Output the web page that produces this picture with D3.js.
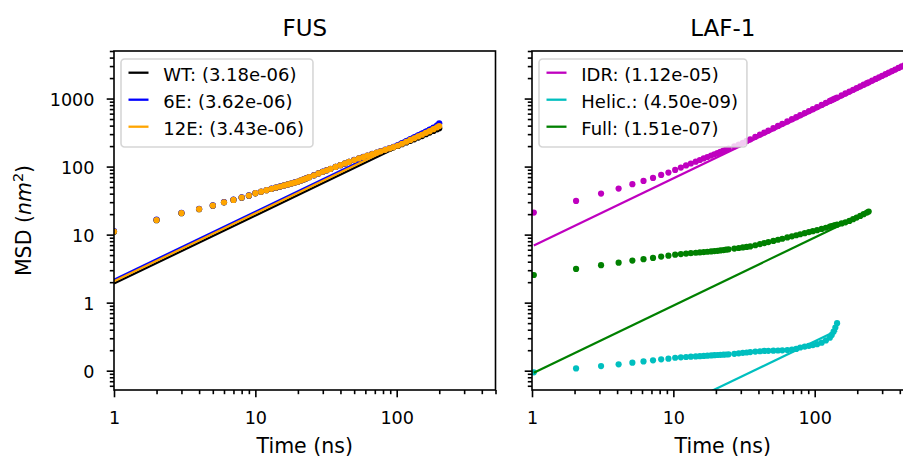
<!DOCTYPE html>
<html>
<head>
<meta charset="utf-8">
<script src="https://cdn.jsdelivr.net/npm/d3@7"></script>
<style>
  body { margin: 0; background: #fff; }
  text { font-family: "DejaVu Sans", sans-serif; fill: #000; }
</style>
</head>
<body>
<div id="chart"></div>
<script>
// ---- data ----
const tFUS = [1,2,3,4,5,6,7,8,9,10,11,12,13,14,15,16,17,18,19,20,21,22,23,24,
  26,28,30,32,34,37,40,43,46,50,54,58,62,67,72,77,83,89,95,102,109,117,125,133,142,
  151,161,171,182,193,200]

const msdWT = [11.0,16.3,20.6,23.6,26.6,29.8,32.3,34.9,37.4,40.5,
  42.7,44.9,47.0,49.0,50.9,52.8,54.6,56.4,58.2,59.9,62.4,64.8,67.3,69.7,
  74.5,79.2,83.9,88.2,92.2,98.8,105.0,110.9,116.9,124.6,131.2,137.6,143.8,151.4,158.6,
  165.5,173.8,181.9,192,201,213,226,239,252,267,281,299,316,334,353,367]
const msd6E = [11.3,16.6,20.9,23.9,26.9,30.1,32.6,35.2,37.7,40.8,
  43.0,45.2,47.3,49.3,51.2,53.1,54.9,56.7,58.5,60.2,62.7,65.1,67.6,70.0,
  74.8,79.5,84.2,88.5,92.5,99.1,105.3,111.3,117.4,125.4,132.2,138.8,145.4,153.4,161.2,
  169.0,178.0,187.2,195,207,221,237,254,270,288,306,328,350,375,405,432]
const msd12E = [11.1,16.4,20.7,23.7,26.7,29.9,32.4,35.0,37.5,40.6,
  42.8,45.0,47.1,49.1,51.0,52.9,54.7,56.5,58.3,60.0,62.5,64.9,67.4,69.8,
  74.6,79.3,84.0,88.3,92.3,98.9,105.1,111.1,117.1,125.0,131.7,138.2,144.6,152.4,160.0,
  167.5,176.2,184.9,193.2,203.7,216.7,231.6,246.3,261.0,277.4,293.9,313.0,332.0,355.0,378.0,395.0]

const tLAF = [1.03,2.05,3.08,4.1,5.13,6.15,7.18,8.2,9.23,10.3,11.3,12.3,13.3,14.4,15.4,16.4,17.4,
  18.5,19.5,20.5,21.5,22.6,23.6,24.6,27,29,31,33,35,38,41,44,47,51,55,59,64,69,74,
  79,85,91,97,104,112,120,128,132,136,140,144,155,165,176,187,198,210,222,234,241,
  255,270,285,300,317,334,352,371,391,412,434,457,480]

const msdIDR = [21.1,31.3,40.1,47.5,55.1,61.6,68.2,75.5,81.7,89.4,
  96.7,103.9,111.0,118.0,124.9,131.7,138.4,145.1,151.7,158.2,164.8,171.2,177.6,183.9,
  198.6,210.6,223,238,252,274,295,317,338,367,396,425,461,497,533,
  569,612,655,698,749,806,864,922,950,979,1008,1037,1116,1188,1267,1346,1426,
  1512,1598,1685,1735,1836,1944,2052,2160,2282,2405,2534,2671,2815,2966,3125,3290,3456]
const msdHelic = [0.0946,0.108,0.117,0.124,0.131,0.137,0.142,0.147,0.150,0.155,
  0.157,0.1588,0.1605,0.1621,0.1636,0.165,0.1663,0.1676,0.1688,0.170,0.171,0.172,0.173,0.174,
  0.177,0.180,0.183,0.185,0.188,0.191,0.193,0.195,0.196,0.197,0.198,0.199,0.201,0.204,0.209,
  0.219,0.226,0.232,0.238,0.245,0.258,0.278,0.305,0.335,0.375,0.43,0.50]
const msdFull = [2.55,3.13,3.55,3.87,4.15,4.35,4.54,4.75,4.91,5.08,
  5.17,5.25,5.33,5.41,5.47,5.54,5.60,5.66,5.72,5.77,5.85,5.93,6.00,6.07,
  6.23,6.36,6.48,6.59,6.70,6.98,7.25,7.51,7.76,8.09,8.40,8.70,9.09,9.44,9.78,
  10.12,10.50,10.88,11.24,11.64,12.14,12.62,13.10,13.33,13.56,13.79,14.01,
  14.61,15.14,15.91,16.85,17.78,18.8,19.96,21.12,21.8]

const fusNames = ['WT', '6E', '12E']
const fusD = [3.18e-06, 3.62e-06, 3.43e-06]
const fusColors = ['#000000', '#0000ff', '#ffa500']

const lafNames = ['IDR', 'Helic.', 'Full']
const lafD = [1.12e-05, 4.50e-09, 1.51e-07]
const lafColors = ['#bf00bf', '#00bfbf', '#008000']

const xTicks = [1, 10, 100]
const yTicks = [0.1, 1, 10, 100, 1000]

// ---- layout ----
const W = 903, H = 458
const topY = 51, bottomY = 390, pw = 381.5
const ph = bottomY - topY
const fontTick = 17.6, fontLabel = 20.5, fontTitle = 23, fontLegend = 18

const svg = d3.select('#chart').append('svg').attr('width', W).attr('height', H)

const x = d3.scaleLog().domain([1, 500]).range([0, pw])
const y = d3.scaleLog().domain([0.052, 5000]).range([ph, 0])

function minorTicks(domain) {
  let out = []
  for (let e = -3; e <= 4; e++) {
    for (let m = 2; m <= 9; m++) {
      let v = m * Math.pow(10, e)
      if (v >= domain[0] && v <= domain[1]) out.push(v)
    }
  }
  return out
}

// fitted MSD = 6 D t, D in cm^2/s -> nm^2/ns
function fitVal(D, t) { return 6 * D * 1e5 * t }

function fmtD(D) {
  let s = D.toExponential(2)           // 3.18e-6
  return s.replace(/e([+-])(\d)$/, 'e$10$2')
}

function drawPanel(left, title, series, showYLabels, id) {
  const g = svg.append('g').attr('transform', `translate(${left},${topY})`)

  g.append('clipPath').attr('id', 'clip' + id)
    .append('rect').attr('width', pw).attr('height', ph)

  const plot = g.append('g').attr('clip-path', `url(#clip${id})`)

  series.forEach(function(s) {
    plot.append('g').selectAll('circle')
      .data(s.values.map((v, i) => [s.t[i], v]))
      .enter().append('circle')
      .attr('cx', d => x(d[0]))
      .attr('cy', d => y(d[1]))
      .attr('r', 3.1)
      .attr('fill', s.color)

    let t0 = s.t[0], t1 = s.t[s.values.length - 1]
    plot.append('path')
      .datum([t0, t1])
      .attr('d', d3.line().x(t => x(t)).y(t => y(fitVal(s.D, t))))
      .attr('fill', 'none')
      .attr('stroke', s.color)
      .attr('stroke-width', 2.2)
  })

  // axes
  const gx = g.append('g').attr('transform', `translate(0,${ph})`)
  gx.append('g').call(d3.axisBottom(x).tickValues(minorTicks(x.domain())).tickSize(4.2).tickFormat(''))
  gx.append('g').call(d3.axisBottom(x).tickValues(xTicks).tickSize(7.3).tickFormat(d3.format('d')))
  gx.selectAll('text').attr('y', 33.5).attr('dy', null).style('font-size', fontTick + 'px')
    .attr('font-family', null)

  const gy = g.append('g')
  gy.append('g').call(d3.axisLeft(y).tickValues(minorTicks(y.domain())).tickSize(4.2).tickFormat(''))
  gy.append('g').call(d3.axisLeft(y).tickValues(yTicks).tickSize(7.3)
    .tickFormat(d => showYLabels ? String(Math.round(d)) : ''))
  gy.selectAll('text').attr('x', -19.5).attr('y', 7).attr('dy', null).style('font-size', fontTick + 'px')
    .attr('font-family', null)

  g.selectAll('.domain').remove()
  g.selectAll('.tick line').attr('stroke', '#000').attr('stroke-width', 1.6)

  // spines
  g.append('rect').attr('width', pw).attr('height', ph)
    .attr('fill', 'none').attr('stroke', '#000').attr('stroke-width', 1.6)

  // legend
  const lg = g.append('g').attr('transform', 'translate(7,8)')
  const box = lg.append('rect').attr('height', 88).attr('rx', 3.5)
    .attr('fill', '#fff').attr('fill-opacity', 0.8)
    .attr('stroke', '#cccccc').attr('stroke-opacity', 0.8).attr('stroke-width', 1.6)
  let maxW = 0
  series.forEach(function(s, i) {
    let cy = 13.7 + i * 27
    lg.append('line').attr('x1', 7.5).attr('x2', 27.5).attr('y1', cy).attr('y2', cy)
      .attr('stroke', s.color).attr('stroke-width', 2.3)
    let tx = lg.append('text').attr('x', 42.3).attr('y', cy + 8)
      .style('font-size', fontLegend + 'px')
      .text(`${s.name}: (${fmtD(s.D)})`)
    maxW = Math.max(maxW, tx.node().getComputedTextLength())
  })
  box.attr('width', 42.3 + maxW + 9)

  // title and x label
  g.append('text').attr('x', pw / 2).attr('y', 35.7 - topY).attr('text-anchor', 'middle')
    .style('font-size', fontTitle + 'px').text(title)
  g.append('text').attr('x', pw / 2).attr('y', 453.3 - topY).attr('text-anchor', 'middle')
    .style('font-size', fontLabel + 'px').text('Time (ns)')
}

const fusSeries = fusNames.map((n, i) => ({
  name: n, D: fusD[i], color: fusColors[i], t: tFUS, values: [msdWT, msd6E, msd12E][i]
}))
const lafSeries = lafNames.map((n, i) => ({
  name: n, D: lafD[i], color: lafColors[i], t: tLAF, values: [msdIDR, msdHelic, msdFull][i]
}))

drawPanel(114, 'FUS', fusSeries, true, 0)
drawPanel(532, 'LAF-1', lafSeries, false, 1)

// y label
const yl = svg.append('text')
  .attr('transform', 'translate(31,220.5) rotate(-90)')
  .attr('text-anchor', 'middle')
  .style('font-size', fontLabel + 'px')
yl.append('tspan').text('MSD (')
yl.append('tspan').style('font-style', 'italic').text('nm')
yl.append('tspan').attr('dy', -8).style('font-size', '14.4px').text('2')
yl.append('tspan').attr('dy', 8).text(')')
</script>
</body>
</html>
